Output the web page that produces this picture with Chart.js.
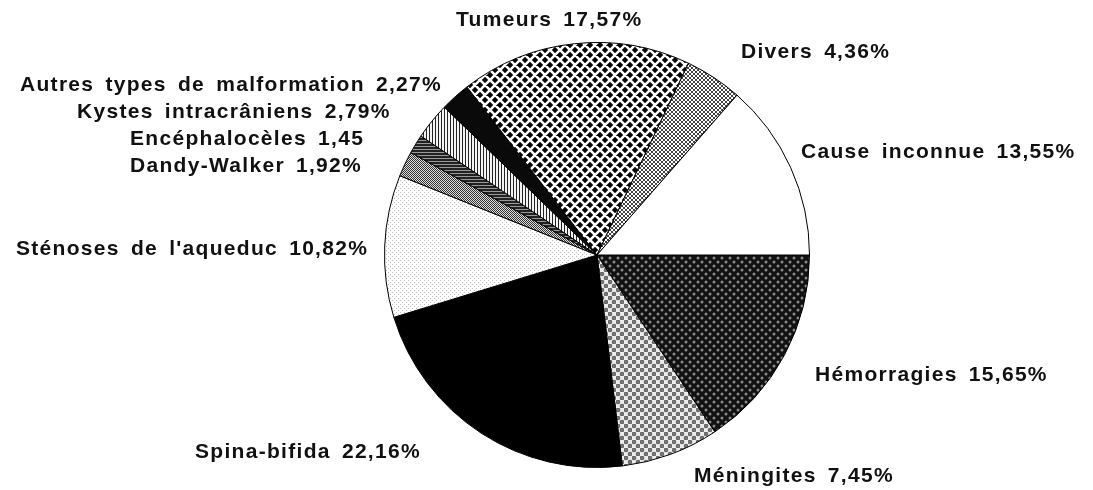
<!DOCTYPE html>
<html>
<head>
<meta charset="utf-8">
<script src="https://cdn.jsdelivr.net/npm/chart.js@4.4.1/dist/chart.umd.min.js"></script>
<style>
  html, body { margin: 0; padding: 0; background: #fff; }
  #wrap { width: 1093px; height: 490px; position: relative; }
</style>
</head>
<body>
<div id="wrap"><canvas id="myChart"></canvas></div>
<script>
// clockwise from 3 o'clock
const categories = ['Hémorragies', 'Méningites', 'Spina-bifida', "Sténoses de l'aqueduc", 'Dandy-Walker',
    'Encéphalocèles', 'Kystes intracrâniens', 'Autres types de malformation', 'Tumeurs', 'Divers', 'Cause inconnue']
const values = [15.65, 7.45, 22.16, 10.82, 1.92, 1.45, 2.79, 2.27, 17.57, 4.36, 13.55]
const units = ['%', '%', '%', '%', '%', '', '%', '%', '%', '%', '%']

// where each label's text sits (left x, middle y)
const labelLayout = [
    [815, 375], [694, 476], [195, 452], [16, 249], [130, 166],
    [130, 139], [77, 112], [20, 85], [456, 20], [741, 52], [801, 152]
]

function tile(w, h, draw) {
    const c = document.createElement('canvas')
    c.width = w
    c.height = h
    const g = c.getContext('2d')
    draw(g, w, h)
    return g.createPattern(c, 'repeat')
}

const patterns = [
    // hémorragies: black with grey dots
    tile(8, 8, (g, w, h) => {
        g.fillStyle = '#111'; g.fillRect(0, 0, w, h)
        g.fillStyle = '#8a8a8a'
        g.beginPath(); g.arc(2, 2, 1.5, 0, Math.PI * 2); g.fill()
        g.beginPath(); g.arc(6, 6, 1.5, 0, Math.PI * 2); g.fill()
    }),
    // méningites: white with grey rings
    tile(8, 8, (g, w, h) => {
        g.fillStyle = '#eee'; g.fillRect(0, 0, w, h)
        g.fillStyle = '#666'
        g.beginPath(); g.arc(2, 2, 2.3, 0, Math.PI * 2); g.fill()
        g.beginPath(); g.arc(6, 6, 2.3, 0, Math.PI * 2); g.fill()
        g.fillStyle = '#aaa'
        g.fillRect(1.5, 1.5, 1, 1); g.fillRect(5.5, 5.5, 1, 1)
    }),
    '#000',
    // sténoses: fine stipple
    tile(4, 4, (g, w, h) => {
        g.fillStyle = '#fff'; g.fillRect(0, 0, w, h)
        g.fillStyle = '#bbb'
        g.fillRect(0, 0, 1, 1); g.fillRect(2, 2, 1, 1)
    }),
    // dandy-walker: fine checker
    tile(2, 2, (g, w, h) => {
        g.fillStyle = '#ddd'; g.fillRect(0, 0, w, h)
        g.fillStyle = '#333'
        g.fillRect(0, 0, 1, 1); g.fillRect(1, 1, 1, 1)
    }),
    // encéphalocèles: dark lines
    tile(3, 3, (g, w, h) => {
        g.fillStyle = '#222'; g.fillRect(0, 0, w, h)
        g.fillStyle = '#999'
        g.fillRect(0, 2, 3, 1)
    }),
    // kystes: vertical lines
    tile(3, 3, (g, w, h) => {
        g.fillStyle = '#f4f4f4'; g.fillRect(0, 0, w, h)
        g.fillStyle = '#222'
        g.fillRect(0, 0, 1, 3)
    }),
    '#0a0a0a',
    // tumeurs: basket weave
    tile(10, 10, (g, w, h) => {
        g.fillStyle = '#000'; g.fillRect(0, 0, w, h)
        g.strokeStyle = '#fff'
        g.lineWidth = 2.6
        g.beginPath()
        g.moveTo(0, 0); g.lineTo(10, 10)
        g.moveTo(-5, 5); g.lineTo(5, 15)
        g.moveTo(5, -5); g.lineTo(15, 5)
        g.moveTo(10, 0); g.lineTo(0, 10)
        g.moveTo(15, 5); g.lineTo(5, 15)
        g.moveTo(5, -5); g.lineTo(-5, 5)
        g.stroke()
    }),
    // divers: fine cross-hatch
    tile(4, 4, (g, w, h) => {
        g.fillStyle = '#fff'; g.fillRect(0, 0, w, h)
        g.fillStyle = '#444'
        g.fillRect(0, 0, 1, 1); g.fillRect(1, 1, 1, 1); g.fillRect(2, 2, 1, 1); g.fillRect(3, 3, 1, 1)
        g.fillRect(3, 0, 1, 1); g.fillRect(2, 1, 1, 1); g.fillRect(1, 2, 1, 1); g.fillRect(0, 3, 1, 1)
    }),
    '#fff'
]

const fmt = v => v.toFixed(2).replace('.', ',')

const labelPlugin = {
    id: 'sliceLabels',
    afterDraw(chart) {
        const c = chart.ctx
        c.save()
        c.font = 'bold 21px "Liberation Sans", Arial, sans-serif'
        c.letterSpacing = '1.3px'
        c.wordSpacing = '4px'
        c.fillStyle = '#111'
        c.textAlign = 'left'
        c.textBaseline = 'middle'
        categories.forEach((name, i) => {
            const [x, y] = labelLayout[i]
            c.fillText(name + ' ' + fmt(values[i]) + units[i], x, y)
        })
        c.restore()
    }
}

new Chart(document.getElementById('myChart'), {
    type: 'pie',
    data: {
        labels: categories,
        datasets: [{
            data: values,
            backgroundColor: patterns,
            borderColor: '#000',
            borderWidth: 1
        }]
    },
    options: {
        responsive: true,
        maintainAspectRatio: false,
        animation: false,
        rotation: 90,
        layout: { padding: { left: 101, right: 0, top: 42, bottom: 22 } },
        plugins: {
            legend: { display: false },
            tooltip: { enabled: false }
        }
    },
    plugins: [labelPlugin]
})
</script>
</body>
</html>
